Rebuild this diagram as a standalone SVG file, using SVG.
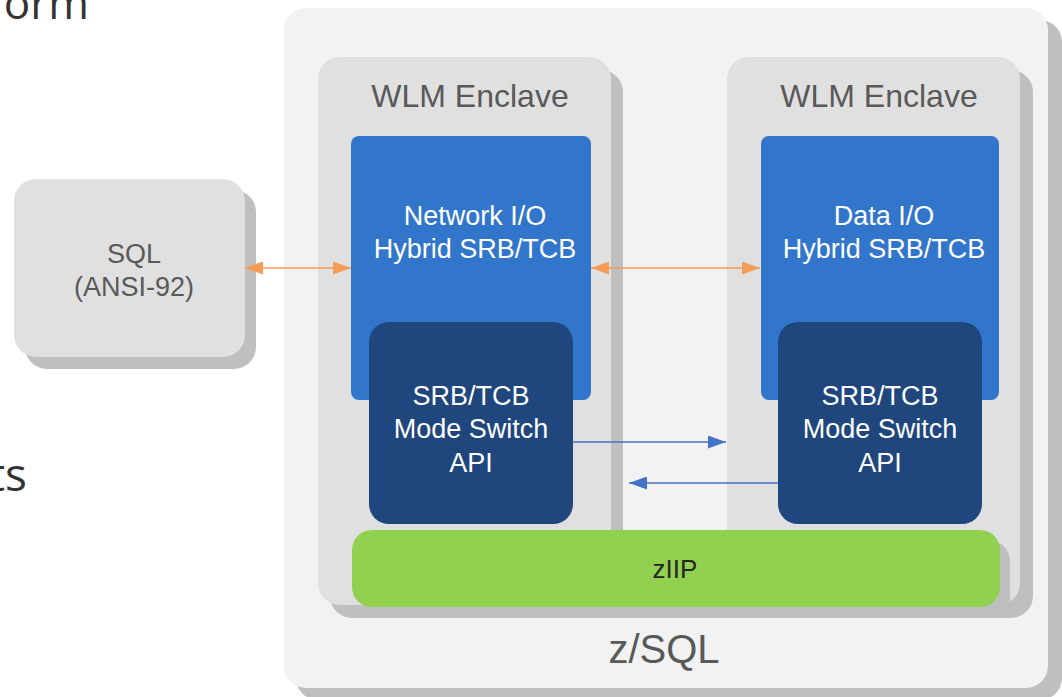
<svg xmlns="http://www.w3.org/2000/svg" width="1062" height="697" viewBox="0 0 1062 697">
<style>
.shadow{fill:#bfbfbf}
.outer{fill:#f2f2f2}
.enc{fill:#e0e0e0}
.blue{fill:#3276cc}
.navy{fill:#1f477d}
.green{fill:#92d050}
.t{font-family:"Liberation Sans",Arial,sans-serif;text-anchor:middle}
.gray{fill:#595959}
.white{fill:#ffffff}
.frag{font-family:"Open Sans","Liberation Sans",sans-serif;fill:#333333;text-anchor:end}
.orange{stroke:#f59d56;stroke-width:1.5;fill:none}
.bl{stroke:#4472c4;stroke-width:1.5;fill:none}
</style>
<defs>
<marker id="oa" viewBox="0 0 18 13" refX="18" refY="6.5" markerWidth="18" markerHeight="13" markerUnits="userSpaceOnUse" orient="auto-start-reverse">
<path d="M0,0 L18,6.5 L0,13 Z" fill="#f59d56"/>
</marker>
<marker id="ba" viewBox="0 0 18 13" refX="18" refY="6.5" markerWidth="18" markerHeight="13" markerUnits="userSpaceOnUse" orient="auto">
<path d="M0,0 L18,6.5 L0,13 Z" fill="#4472c4"/>
</marker>
</defs>

<text class="frag" x="89" y="19" font-size="44">orm</text>
<text class="frag" x="27" y="491" font-size="46">ts</text>

<g id="zsql">
<rect class="shadow" x="296" y="20" width="766" height="680" rx="22"/>
<rect class="outer" x="284" y="8" width="764" height="680" rx="22"/>
<text class="t gray" x="664" y="663" font-size="40">z/SQL</text>
</g>

<g id="sql">
<rect class="shadow" x="25" y="190" width="231" height="179" rx="22"/>
<rect class="enc" x="14" y="179" width="231" height="178" rx="22"/>
<text class="t gray" x="134" y="263" font-size="27">SQL</text>
<text class="t gray" x="134" y="296" font-size="27">(ANSI-92)</text>
</g>

<g id="enclave1">
<rect class="shadow" x="330" y="70" width="293" height="548" rx="22"/>
<rect class="enc" x="318" y="57" width="293" height="548" rx="22"/>
<text class="t gray" x="470" y="107" font-size="32">WLM Enclave</text>
</g>

<g id="enclave2">
<rect class="shadow" x="739" y="70" width="294" height="548" rx="22"/>
<rect class="enc" x="727" y="57" width="293" height="548" rx="22"/>
<text class="t gray" x="879" y="107" font-size="32">WLM Enclave</text>
</g>

<g id="networkio">
<rect class="blue" x="351" y="136" width="240" height="264" rx="8"/>
<text class="t white" x="475" y="225" font-size="27">Network I/O</text>
<text class="t white" x="475" y="258" font-size="27">Hybrid SRB/TCB</text>
</g>

<g id="dataio">
<rect class="blue" x="761" y="136" width="238" height="264" rx="8"/>
<text class="t white" x="884" y="225" font-size="27">Data I/O</text>
<text class="t white" x="884" y="258" font-size="27">Hybrid SRB/TCB</text>
</g>

<g id="modeswitch1">
<rect class="navy" x="369" y="322" width="204" height="202" rx="20"/>
<text class="t white" x="471" y="405" font-size="27">SRB/TCB</text>
<text class="t white" x="471" y="438" font-size="27">Mode Switch</text>
<text class="t white" x="471" y="472" font-size="27">API</text>
</g>

<g id="modeswitch2">
<rect class="navy" x="778" y="322" width="204" height="202" rx="20"/>
<text class="t white" x="880" y="405" font-size="27">SRB/TCB</text>
<text class="t white" x="880" y="438" font-size="27">Mode Switch</text>
<text class="t white" x="880" y="472" font-size="27">API</text>
</g>

<g id="ziip">
<rect class="shadow" x="362" y="541" width="648" height="77" rx="20"/>
<rect class="green" x="352" y="530" width="648" height="77" rx="20"/>
<text class="t" x="675" y="578" font-size="26" fill="#262626">zIIP</text>
</g>

<g id="connectors">
<line class="orange" x1="245" y1="268" x2="351" y2="268" marker-start="url(#oa)" marker-end="url(#oa)"/>
<line class="orange" x1="591" y1="268" x2="760" y2="268" marker-start="url(#oa)" marker-end="url(#oa)"/>
<line class="bl" x1="573" y1="442" x2="726" y2="442" marker-end="url(#ba)"/>
<line class="bl" x1="778" y1="483" x2="629" y2="483" marker-end="url(#ba)"/>
</g>
</svg>
